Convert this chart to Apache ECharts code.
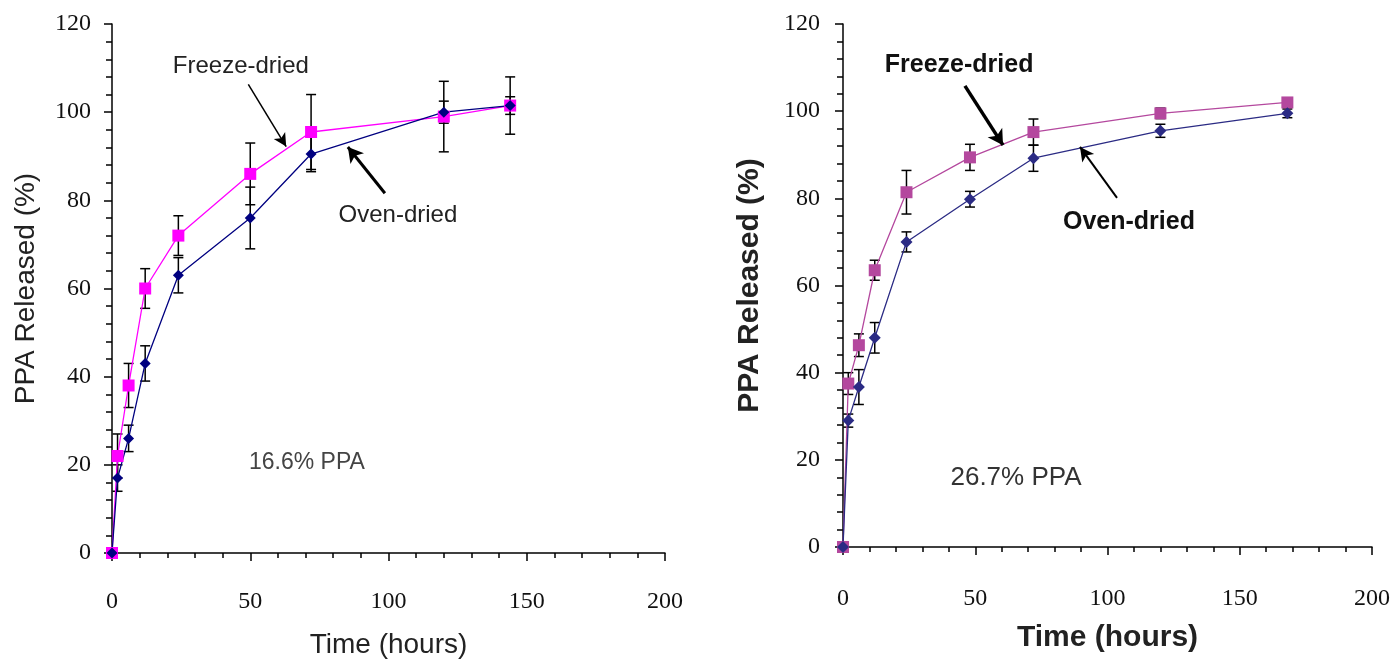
<!DOCTYPE html>
<html>
<head>
  <meta charset="utf-8">
  <title>PPA release</title>
  <script src="https://cdn.jsdelivr.net/npm/echarts@6/dist/echarts.min.js"></script>
  <style>
    html, body { margin: 0; padding: 0; background: #fff; }
    #main { width: 1392px; height: 660px; }
  </style>
</head>
<body>
<div id="main"></div>
<script>
  // 16.6% PPA (left panel)
  var timeLeft = [0, 2, 6, 12, 24, 50, 72, 120, 144];
  var freezeLeft = [0, 22, 38, 60, 72, 86, 95.5, 99, 101.5];
  var freezeLeftErr = [0, 5, 5, 4.5, 4.5, 7, 8.5, 8, 6.5];
  var ovenLeft = [0, 17, 26, 43, 63, 76, 90.5, 100, 101.5];
  var ovenLeftErr = [0, 3, 3, 4, 4, 7, 4, 2.5, 2];

  // 26.7% PPA (right panel)
  var timeRight = [0, 2, 6, 12, 24, 48, 72, 120, 168];
  var freezeRight = [0, 37.5, 46.3, 63.5, 81.4, 89.4, 95.2, 99.5, 102];
  var freezeRightErr = [0, 2.5, 2.6, 2.3, 5, 3, 3, 1.2, 1];
  var ovenRight = [0, 29, 36.7, 48, 70, 79.8, 89.2, 95.5, 99.5];
  var ovenRightErr = [0, 1.5, 4, 3.5, 2.3, 1.8, 3, 1.5, 1];

  var xTicks = [0, 50, 100, 150, 200];
  var yTicks = [0, 20, 40, 60, 80, 100, 120];

  function pairs(t, v) {
    return t.map(function (x, i) { return [x, v[i]]; });
  }
  function bars(t, v, e) {
    return t.map(function (x, i) { return [x, v[i] - e[i], v[i] + e[i]]; });
  }

  // error bar drawn through the axes scales
  function errorItem(params, api) {
    var x = api.value(0);
    var top = api.coord([x, api.value(2)]);
    var bot = api.coord([x, api.value(1)]);
    var w = 5;
    var st = { stroke: '#000', lineWidth: 1.5 };
    return {
      type: 'group',
      children: [
        { type: 'line', shape: { x1: top[0], y1: top[1], x2: bot[0], y2: bot[1] }, style: st },
        { type: 'line', shape: { x1: top[0] - w, y1: top[1], x2: top[0] + w, y2: top[1] }, style: st },
        { type: 'line', shape: { x1: bot[0] - w, y1: bot[1], x2: bot[0] + w, y2: bot[1] }, style: st }
      ]
    };
  }

  var tickFont = 'Liberation Serif';

  function xAxisOf(idx, bold) {
    return {
      type: 'value', gridIndex: idx, min: 0, max: 200, interval: 50,
      name: 'Time (hours)', nameLocation: 'middle', nameGap: bold ? 76 : 78,
      nameTextStyle: { fontFamily: 'Liberation Sans', fontSize: bold ? 30 : 28, fontWeight: bold ? 'bold' : 'normal', color: '#222' },
      axisLine: { lineStyle: { color: '#000', width: 1.5 } },
      axisTick: { show: true, length: 8, lineStyle: { color: '#000', width: 1.5 } },
      minorTick: { show: true, splitNumber: 5, length: 5, lineStyle: { color: '#000', width: 1.5 } },
      axisLabel: { margin: bold ? 40 : 37, fontFamily: tickFont, fontSize: 24, color: '#111',
        formatter: function (v) { return xTicks.indexOf(v) >= 0 ? String(v) : ''; } },
      splitLine: { show: false }
    };
  }
  function yAxisOf(idx, bold) {
    return {
      type: 'value', gridIndex: idx, min: 0, max: 120, interval: 20,
      name: 'PPA Released (%)', nameLocation: 'middle', nameGap: bold ? 78 : 72, nameRotate: 90,
      nameTextStyle: { fontFamily: 'Liberation Sans', fontSize: bold ? 30 : 28, fontWeight: bold ? 'bold' : 'normal', color: '#222' },
      axisLine: { show: true, lineStyle: { color: '#000', width: 1.5 } },
      axisTick: { show: true, length: 8, lineStyle: { color: '#000', width: 1.5 } },
      minorTick: { show: true, splitNumber: 5, length: 6, lineStyle: { color: '#000', width: 1.5 } },
      axisLabel: { margin: bold ? 23 : 21, fontFamily: tickFont, fontSize: 24, color: '#111',
        formatter: function (v) { return yTicks.indexOf(v) >= 0 ? String(v) : ''; } },
      splitLine: { show: false }
    };
  }

  function lineSeries(idx, name, data, color, symbol, size, arrow) {
    var s = {
      type: 'line', name: name, xAxisIndex: idx, yAxisIndex: idx, data: data,
      symbol: symbol, symbolSize: size, z: 3,
      lineStyle: { color: color, width: 1.3 },
      itemStyle: { color: color, borderWidth: 0 }
    };
    if (arrow) {
      s.markLine = {
        silent: true, symbol: ['none', 'arrow'], symbolSize: arrow.head,
        label: { show: false },
        lineStyle: { color: '#000', width: arrow.width, type: 'solid' },
        data: [[{ coord: arrow.from }, { coord: arrow.to }]]
      };
    }
    return s;
  }
  function errSeries(idx, data) {
    return { type: 'custom', xAxisIndex: idx, yAxisIndex: idx, data: data, renderItem: errorItem, z: 2 };
  }

  var chart = echarts.init(document.getElementById('main'));
  var option = {
    animation: false,
    backgroundColor: '#fff',
    grid: [
      { left: 112, right: 727, top: 24, bottom: 107, outerBoundsMode: 'none', containLabel: false },
      { left: 843, right: 20, top: 24, bottom: 113, outerBoundsMode: 'none', containLabel: false }
    ],
    xAxis: [xAxisOf(0, false), xAxisOf(1, true)],
    yAxis: [yAxisOf(0, false), yAxisOf(1, true)],
    series: [
      errSeries(0, bars(timeLeft, freezeLeft, freezeLeftErr)),
      errSeries(0, bars(timeLeft, ovenLeft, ovenLeftErr)),
      lineSeries(0, 'Freeze-dried', pairs(timeLeft, freezeLeft), '#ff00ff', 'rect', 12,
        { from: [49.3, 106.3], to: [63, 92.2], width: 1.5, head: [10, 13] }),
      lineSeries(0, 'Oven-dried', pairs(timeLeft, ovenLeft), '#000080', 'diamond', 11,
        { from: [98.7, 81.6], to: [85.3, 92.1], width: 3, head: [13, 15] }),
      errSeries(1, bars(timeRight, freezeRight, freezeRightErr)),
      errSeries(1, bars(timeRight, ovenRight, ovenRightErr)),
      lineSeries(1, 'Freeze-dried', pairs(timeRight, freezeRight), '#b4489e', 'rect', 12,
        { from: [46.1, 105.8], to: [60.5, 92.2], width: 3.5, head: [13, 15] }),
      lineSeries(1, 'Oven-dried', pairs(timeRight, ovenRight), '#2b2b84', 'diamond', 12,
        { from: [103.6, 80.1], to: [89.6, 91.8], width: 2, head: [11, 14] })
    ]
  };
  chart.setOption(option);

  // annotation texts placed in data coordinates
  var notes = [
    { grid: 0, at: [46.6, 110.3], text: 'Freeze-dried', bold: false, size: 24, color: '#222' },
    { grid: 0, at: [103.4, 76.7], text: 'Oven-dried', bold: false, size: 24, color: '#222' },
    { grid: 0, at: [70.5, 20.4], text: '16.6% PPA', bold: false, size: 23, color: '#444' },
    { grid: 1, at: [43.9, 110.6], text: 'Freeze-dried', bold: true, size: 25, color: '#111' },
    { grid: 1, at: [108.1, 74.6], text: 'Oven-dried', bold: true, size: 25, color: '#111' },
    { grid: 1, at: [65.4, 15.8], text: '26.7% PPA', bold: false, size: 26, color: '#333' }
  ];
  chart.setOption({
    graphic: notes.map(function (n) {
      var p = chart.convertToPixel({ gridIndex: n.grid }, n.at);
      return {
        type: 'text', x: p[0], y: p[1], z: 10,
        style: {
          text: n.text, fill: n.color, align: 'center', verticalAlign: 'middle',
          font: (n.bold ? 'bold ' : '') + n.size + 'px "Liberation Sans", Arial, sans-serif'
        }
      };
    })
  });
</script>
</body>
</html>
